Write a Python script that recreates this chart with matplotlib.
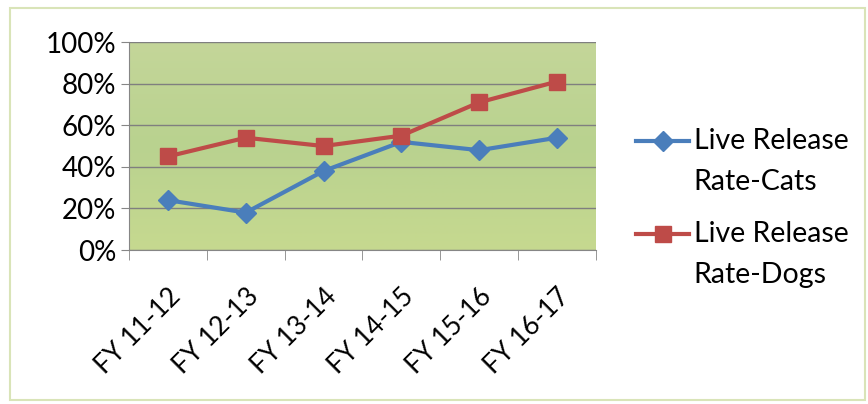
import numpy as np
import matplotlib.pyplot as plt
from matplotlib.colors import LinearSegmentedColormap
from matplotlib.patches import Rectangle
from matplotlib.lines import Line2D

plt.rcParams['font.family'] = ['Lato', 'DejaVu Sans']

# DATA
years = ['FY 11-12', 'FY 12-13', 'FY 13-14', 'FY 14-15', 'FY 15-16', 'FY 16-17']
cats = [24, 18, 38, 52, 48, 54]
dogs = [45, 54, 50, 55, 71, 81]
series_names = ['Live Release\nRate-Cats', 'Live Release\nRate-Dogs']

blue = '#4a7ebb'
red = '#be4b48'

fig = plt.figure(figsize=(8.68, 4.04), dpi=100)
fig.patches.append(Rectangle((0.012, 0.01), 0.985, 0.97, transform=fig.transFigure,
                             fill=False, edgecolor='#d9e4b8', linewidth=1.5))

ax = fig.add_axes([0.1486, 0.381, 0.5380, 0.515])

x = np.arange(len(years))

# green gradient fill behind the plot
grad = LinearSegmentedColormap.from_list('bg', ['#c4d699', '#b9d28f', '#c6d98f'])
ax.imshow(np.linspace(0, 1, 100).reshape(-1, 1), cmap=grad, aspect='auto',
          extent=(-0.5, len(years) - 0.5, 0, 100), origin='upper', zorder=0)

ax.plot(x, cats, color=blue, lw=3, marker='D', ms=10, zorder=3)
ax.plot(x, dogs, color=red, lw=3, marker='s', ms=11.5, zorder=3)

ax.set_xlim(-0.5, len(years) - 0.5)
ax.set_ylim(0, 100)
ax.set_yticks(range(0, 101, 20))
ax.set_yticklabels([f'{v}%' for v in range(0, 101, 20)], fontsize=20)
ax.yaxis.grid(True, color='#7f7f7f', lw=1)
ax.set_axisbelow(False)

ax.set_xticks(x)
ax.set_xticklabels(years, fontsize=19, rotation=45, ha='right', rotation_mode='anchor')
ax.tick_params(axis='x', length=0, pad=24)
ax.set_xticks(np.arange(-0.5, len(years)), minor=True)
ax.tick_params(axis='x', which='minor', length=7, color='#868686')
ax.tick_params(axis='y', length=6, color='#868686', pad=3)

for side in ['top', 'right']:
    ax.spines[side].set_visible(False)
for side in ['left', 'bottom']:
    ax.spines[side].set_color('#868686')

# legend: handle lines up with the first line of each two-line label
legend_rows = [(0.650, blue, 'D', 10), (0.420, red, 's', 11.5)]
for (yf, col, mk, ms), name in zip(legend_rows, series_names):
    fig.add_artist(Line2D([0.733, 0.794], [yf, yf], transform=fig.transFigure,
                          color=col, lw=3))
    fig.add_artist(Line2D([0.7635], [yf], transform=fig.transFigure,
                          color=col, marker=mk, ms=ms, lw=0))
    fig.text(0.799, yf + 0.034, name, fontsize=20.5, va='top', ha='left',
             linespacing=1.75, transform=fig.transFigure)

fig.savefig('out.png', dpi=100)
